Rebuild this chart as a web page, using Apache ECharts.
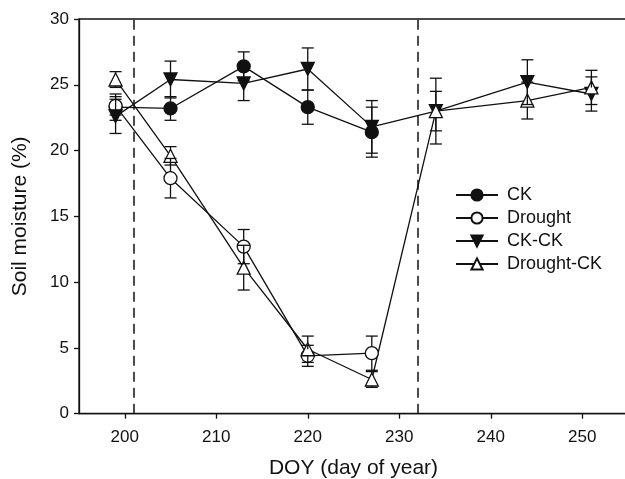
<!DOCTYPE html>
<html>
<head>
<meta charset="utf-8">
<script src="https://cdn.jsdelivr.net/npm/echarts@6/dist/echarts.min.js"></script>
<style>
html,body{margin:0;padding:0;background:#fff;overflow:hidden;}
#chart{width:625px;height:479px;}
</style>
</head>
<body>
<div id="chart"></div>
<script>
const doyA = [199, 205, 213, 220, 227];
const doyB = [199, 205, 213, 220, 227, 234, 244, 251];
const ckVals = [23.3, 23.2, 26.4, 23.3, 21.4];
const ckErr = [1.0, 0.9, 1.1, 1.3, 1.9];
const droughtVals = [23.4, 17.9, 12.7, 4.4, 4.6];
const droughtErr = [0.7, 1.5, 1.3, 0.8, 1.3];
const ckckVals = [22.6, 25.4, 25.1, 26.2, 21.8, 23.0, 25.2, 24.3];
const ckckErr = [1.3, 1.4, 1.3, 1.6, 2.0, 1.5, 1.7, 1.3];
const dckVals = [25.4, 19.6, 11.1, 4.9, 2.6, 23.0, 23.8, 24.8];
const dckErr = [0.6, 0.7, 1.7, 1.0, 0.6, 2.5, 1.4, 1.3];
const seriesNames = ['CK', 'Drought', 'CK-CK', 'Drought-CK'];
const treatmentLines = [201, 232];
const yTicks = [0, 5, 10, 15, 20, 25, 30];
const xTicks = [200, 210, 220, 230, 240, 250];

const FONT = '"Liberation Sans", Arial, sans-serif';
const MS = 13;

function pairs(xs, ys) { return xs.map((x, i) => [x, ys[i]]); }
function triples(xs, ys, es) { return xs.map((x, i) => [x, ys[i], es[i]]); }

function errSeries(xs, ys, es) {
  return {
    type: 'custom',
    silent: true,
    z: 5,
    data: triples(xs, ys, es),
    renderItem: function (params, api) {
      const x = api.value(0), y = api.value(1), e = api.value(2);
      const c = api.coord([x, y]);
      const top = api.coord([x, y + e]);
      const bot = api.coord([x, y - e]);
      const r = MS / 2;
      const cap = 6;
      const st = { stroke: '#111', lineWidth: 1.3 };
      const ch = [];
      if (c[1] - top[1] > r) {
        ch.push({ type: 'line', shape: { x1: c[0], y1: c[1] - r, x2: c[0], y2: top[1] }, style: st });
      }
      if (bot[1] - c[1] > r) {
        ch.push({ type: 'line', shape: { x1: c[0], y1: c[1] + r, x2: c[0], y2: bot[1] }, style: st });
      }
      ch.push({ type: 'line', shape: { x1: c[0] - cap, y1: top[1], x2: c[0] + cap, y2: top[1] }, style: st });
      ch.push({ type: 'line', shape: { x1: c[0] - cap, y1: bot[1], x2: c[0] + cap, y2: bot[1] }, style: st });
      return { type: 'group', children: ch };
    }
  };
}

function lineSeries(name, xs, ys, symbol, fill, rotate) {
  return {
    name: name,
    type: 'line',
    data: pairs(xs, ys),
    symbol: symbol,
    symbolSize: MS,
    symbolRotate: rotate || 0,
    showAllSymbol: true,
    z: 3,
    lineStyle: { color: '#111', width: 1.3 },
    itemStyle: { color: fill, borderColor: '#111', borderWidth: 1.3 },
    emphasis: { disabled: true },
    animation: false
  };
}

const chart = echarts.init(document.getElementById('chart'), null, { renderer: 'canvas' });
const opt = {
  animation: false,
  backgroundColor: '#fff',
  textStyle: { fontFamily: FONT },
  grid: { left: 79, width: 549, top: 19, height: 394.7, containLabel: false, outerBoundsMode: 'none', show: true, borderColor: '#111', borderWidth: 1.3, backgroundColor: 'transparent' },
  legend: {
    orient: 'vertical',
    left: 450,
    top: 181,
    itemWidth: 42,
    itemHeight: 14,
    itemGap: 5,
    data: seriesNames,
    textStyle: { fontFamily: FONT, fontSize: 18, color: '#111', padding: [0, 0, 0, 4] },
    selectedMode: false
  },
  xAxis: {
    type: 'value',
    min: 195,
    max: 255,
    interval: 5,
    name: 'DOY (day of year)',
    nameLocation: 'middle',
    nameGap: 44,
    nameTextStyle: { fontFamily: FONT, fontSize: 21, color: '#111' },
    axisLine: { show: true, onZero: false, lineStyle: { color: '#111', width: 1.3 } },
    axisTick: { show: true, length: 5, customValues: xTicks, lineStyle: { color: '#111', width: 1.3 } },
    axisLabel: { fontFamily: FONT, fontSize: 17, color: '#111', margin: 15, customValues: xTicks },
    splitLine: { show: false }
  },
  yAxis: {
    type: 'value',
    min: 0,
    max: 30,
    interval: 5,
    name: 'Soil moisture (%)',
    nameLocation: 'middle',
    nameGap: 48,
    nameTextStyle: { fontFamily: FONT, fontSize: 21, color: '#111' },
    axisLine: { show: true, lineStyle: { color: '#111', width: 1.3 } },
    axisTick: { show: true, length: 5, customValues: yTicks, lineStyle: { color: '#111', width: 1.3 } },
    axisLabel: { fontFamily: FONT, fontSize: 17, color: '#111', margin: 10, customValues: yTicks },
    splitLine: { show: false }
  },
  series: [
    lineSeries(seriesNames[0], doyA, ckVals, 'circle', '#111', 0),
    lineSeries(seriesNames[1], doyA, droughtVals, 'circle', '#fff', 0),
    lineSeries(seriesNames[2], doyB, ckckVals, 'triangle', '#111', 180),
    lineSeries(seriesNames[3], doyB, dckVals, 'triangle', '#fff', 0),
    errSeries(doyA, ckVals, ckErr),
    errSeries(doyA, droughtVals, droughtErr),
    errSeries(doyB, ckckVals, ckckErr),
    errSeries(doyB, dckVals, dckErr),
    {
      type: 'line',
      data: [],
      silent: true,
      markLine: {
        silent: true,
        symbol: ['none', 'none'],
        label: { show: false },
        lineStyle: { color: '#111', width: 1.5, type: [10, 6] },
        data: treatmentLines.map(v => ({ xAxis: v }))
      }
    }
  ]
};
chart.setOption(opt);
</script>
</body>
</html>
